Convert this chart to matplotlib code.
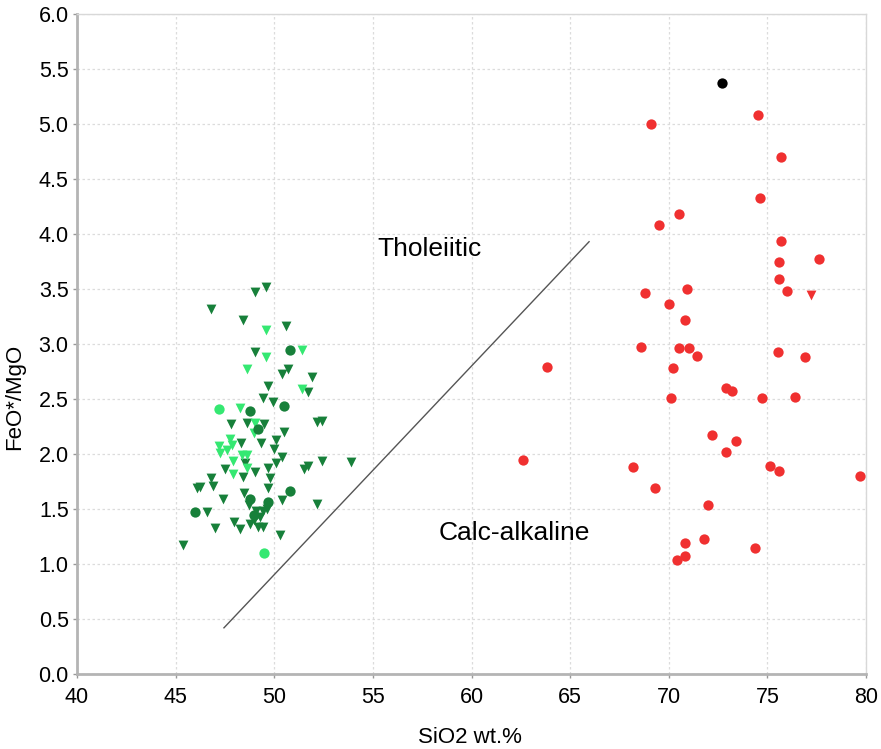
import matplotlib
matplotlib.use("Agg")
import matplotlib.pyplot as plt

plt.rcParams['font.family'] = ['Liberation Sans', 'DejaVu Sans']

# basalt samples - dark green triangles
bas_dt_x = [49.60, 49.01, 46.78, 48.40, 50.58, 49.01, 50.68, 50.41, 51.91, 49.68,
            51.70, 49.41, 49.92, 47.79, 48.60, 49.50, 50.49, 52.18, 52.40, 49.31,
            50.09, 48.30, 50.00, 48.52, 50.41, 50.09, 47.50, 49.01, 49.68, 48.40,
            49.80, 51.51, 51.70, 52.40, 53.89, 46.78, 46.08, 46.88, 49.68, 48.47,
            47.39, 48.70, 50.41, 52.18, 46.58, 49.07, 49.45, 49.65, 48.96, 49.28,
            47.96, 47.00, 48.28, 48.77, 49.19, 49.45, 50.29, 45.36, 46.24]
bas_dt_y = [3.52, 3.47, 3.32, 3.22, 3.16, 2.93, 2.77, 2.73, 2.70, 2.62,
            2.565, 2.505, 2.47, 2.27, 2.28, 2.27, 2.20, 2.29, 2.30, 2.10,
            2.13, 2.10, 2.05, 1.915, 1.975, 1.915, 1.86, 1.84, 1.87, 1.79,
            1.78, 1.865, 1.89, 1.94, 1.925, 1.78, 1.69, 1.71, 1.69, 1.65,
            1.59, 1.54, 1.58, 1.55, 1.47, 1.485, 1.485, 1.50, 1.40, 1.43,
            1.38, 1.325, 1.315, 1.36, 1.34, 1.34, 1.265, 1.17, 1.70]

# light green triangles
bas_lt_x = [49.60, 51.42, 49.60, 48.60, 51.39, 48.28, 49.01, 48.99, 47.18, 47.74,
            47.86, 47.27, 47.60, 48.35, 48.63, 47.91, 48.63, 47.89]
bas_lt_y = [3.13, 2.945, 2.885, 2.775, 2.59, 2.42, 2.28, 2.19, 2.075, 2.14,
            2.08, 2.01, 2.035, 1.99, 1.99, 1.94, 1.87, 1.82]

# dark green circles
bas_dc_x = [50.80, 48.79, 50.51, 49.19, 50.80, 48.77, 49.70, 45.98, 48.99]
bas_dc_y = [2.945, 2.39, 2.44, 2.23, 1.66, 1.59, 1.56, 1.47, 1.45]

# light green circles
bas_lc_x = [47.18, 49.48]
bas_lc_y = [2.405, 1.10]

# rhyolite / granite samples - red circles
fel_x = [74.51, 69.10, 75.69, 74.61, 70.50, 69.51, 75.69, 75.61, 77.60, 75.61,
         76.01, 68.80, 70.91, 69.99, 70.81, 68.59, 70.50, 71.01, 71.42, 75.52,
         76.91, 70.22, 72.88, 73.22, 70.09, 74.71, 76.42, 72.21, 73.39, 72.89,
         68.19, 75.12, 75.61, 79.71, 69.32, 72.00, 70.81, 71.80, 74.39, 70.81,
         70.40, 63.81, 62.60]
fel_y = [5.08, 5.00, 4.70, 4.33, 4.18, 4.08, 3.94, 3.75, 3.77, 3.59,
         3.48, 3.46, 3.50, 3.36, 3.22, 2.975, 2.96, 2.96, 2.89, 2.93,
         2.88, 2.785, 2.60, 2.57, 2.51, 2.51, 2.52, 2.17, 2.12, 2.015,
         1.885, 1.89, 1.85, 1.80, 1.69, 1.54, 1.19, 1.23, 1.145, 1.07,
         1.04, 2.79, 1.945]

fel_tri_x = [77.19]
fel_tri_y = [3.45]

odd_x = [72.72]
odd_y = [5.37]

# tholeiitic / calc-alkaline divide
div_x = [47.45, 65.96]
div_y = [0.42, 3.93]

dark_green = '#17803a'
light_green = '#35e872'
red = '#f03030'

fig = plt.figure(figsize=(8.81, 7.49), dpi=100)
ax = fig.add_axes([0.0874, 0.1001, 0.8956, 0.8812])

ax.plot(div_x, div_y, color='#555555', lw=1.0, zorder=2)

ax.scatter(bas_dt_x, bas_dt_y, marker='v', s=50, color=dark_green, lw=0, zorder=3)
ax.scatter(bas_lt_x, bas_lt_y, marker='v', s=50, color=light_green, lw=0, zorder=4)
ax.scatter(bas_dc_x, bas_dc_y, marker='o', s=55, color=dark_green, lw=0, zorder=5)
ax.scatter(bas_lc_x, bas_lc_y, marker='o', s=55, color=light_green, lw=0, zorder=5)
ax.scatter(fel_x, fel_y, marker='o', s=55, color=red, lw=0, zorder=5)
ax.scatter(fel_tri_x, fel_tri_y, marker='v', s=50, color=red, lw=0, zorder=5)
ax.scatter(odd_x, odd_y, marker='o', s=55, color='black', lw=0, zorder=5)

ax.text(57.85, 3.86, 'Tholeiitic', fontsize=19, ha='center', va='center')
ax.text(62.18, 1.28, 'Calc-alkaline', fontsize=19, ha='center', va='center')

ax.set_xlim(40, 80)
ax.set_ylim(0, 6)
ax.set_xticks(range(40, 81, 5))
ax.set_yticks([i * 0.5 for i in range(13)])
ax.set_yticklabels(['%.1f' % (i * 0.5) for i in range(13)])

ax.grid(True, color='#dcdcdc', linestyle=(0, (2, 2)), lw=0.9)
ax.set_axisbelow(True)

for side in ['left', 'bottom']:
    ax.spines[side].set_color('#b4b4b4')
    ax.spines[side].set_linewidth(2)
for side in ['top', 'right']:
    ax.spines[side].set_color('#d8d8d8')
    ax.spines[side].set_linewidth(1)

ax.tick_params(axis='both', labelsize=15.5, color='#999999', length=3, width=1)
ax.tick_params(axis='x', pad=6)
ax.tick_params(axis='y', pad=3)

ax.set_xlabel('SiO2 wt.%', fontsize=16)
ax.set_ylabel('FeO*/MgO', fontsize=16)
ax.xaxis.set_label_coords(0.498, -0.08)
ax.yaxis.set_label_coords(-0.066, 0.42)

fig.savefig('out.png', dpi=100)
